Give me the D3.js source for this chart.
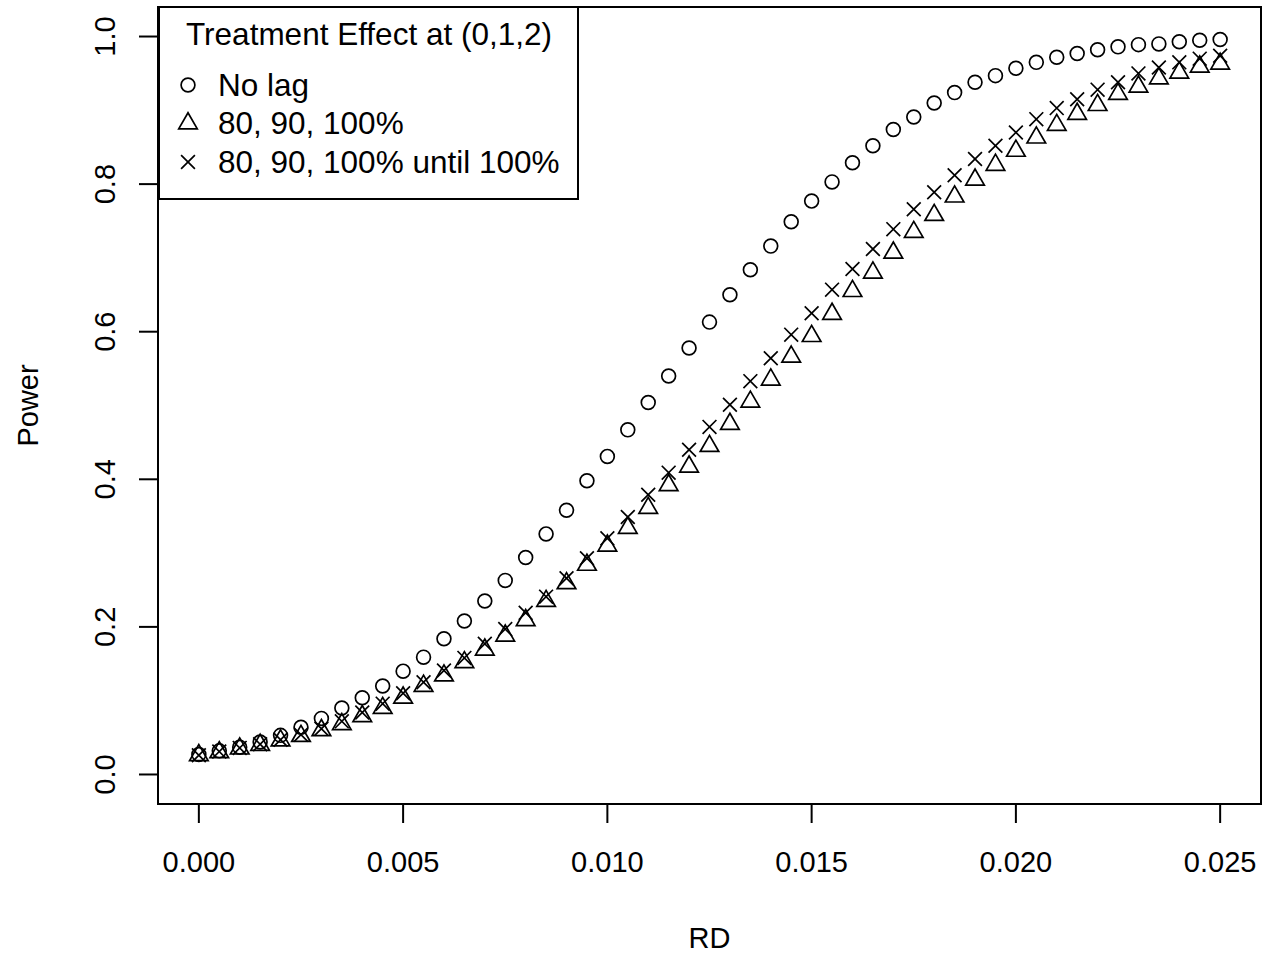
<!DOCTYPE html>
<html>
<head>
<meta charset="utf-8">
<script src="https://cdn.jsdelivr.net/npm/d3@7"></script>
<style>
  html, body { margin: 0; padding: 0; background: #ffffff; }
  svg { display: block; }
  text { font-family: Arial, "Liberation Sans", sans-serif; fill: #000; }
</style>
</head>
<body>
<svg id="chart" width="1264" height="953"></svg>
<script>
// RD values on the x axis (0 to 0.025 by 0.0005)
var rd = d3.range(0, 51).map(function(i) { return +(i * 0.0005).toFixed(4); });

var noLag = [
  0.027, 0.032, 0.037, 0.044, 0.053, 0.064, 0.076, 0.090, 0.104, 0.120,
  0.140, 0.159, 0.184, 0.208, 0.235, 0.263, 0.294, 0.326, 0.358, 0.398,
  0.431, 0.467, 0.504, 0.540, 0.578, 0.613, 0.650, 0.684, 0.716, 0.749,
  0.777, 0.803, 0.829, 0.852, 0.874, 0.891, 0.910, 0.924, 0.938, 0.947,
  0.957, 0.965, 0.972, 0.977, 0.982, 0.986, 0.989, 0.990, 0.993, 0.995,
  0.996
];

var lag = [
  0.026, 0.030, 0.035, 0.040, 0.046, 0.052, 0.060, 0.068, 0.079, 0.090,
  0.104, 0.120, 0.134, 0.152, 0.169, 0.188, 0.209, 0.235, 0.259, 0.284,
  0.310, 0.334, 0.361, 0.392, 0.417, 0.445, 0.475, 0.505, 0.535, 0.566,
  0.594, 0.624, 0.655, 0.680, 0.707, 0.735, 0.758, 0.783, 0.806, 0.826,
  0.845, 0.863, 0.880, 0.895, 0.907, 0.922, 0.932, 0.943, 0.951, 0.959,
  0.963
];

var lagUntil = [
  0.026, 0.031, 0.036, 0.041, 0.047, 0.054, 0.062, 0.072, 0.084, 0.096,
  0.110, 0.125, 0.141, 0.158, 0.177, 0.197, 0.219, 0.241, 0.266, 0.293,
  0.320, 0.349, 0.379, 0.409, 0.440, 0.471, 0.501, 0.533, 0.564, 0.596,
  0.625, 0.657, 0.685, 0.712, 0.739, 0.766, 0.789, 0.812, 0.834, 0.852,
  0.870, 0.888, 0.903, 0.915, 0.928, 0.938, 0.950, 0.958, 0.965, 0.970,
  0.974
];

var xTicks = [0, 0.005, 0.010, 0.015, 0.020, 0.025];
var yTicks = [0, 0.2, 0.4, 0.6, 0.8, 1.0];

var legendTitle = 'Treatment Effect at (0,1,2)';
var legendLabels = ['No lag', '80, 90, 100%', '80, 90, 100% until 100%'];
var legendShapes = ['circle', 'triangle', 'cross'];

var plot = { left: 158, right: 1261, top: 7, bottom: 804 };
var fontSize = 29;
var legendFont = 31.5;
var symR = 6.9;
var lw = 2;

var svg = d3.select('#chart');

// R style limits: xlim / ylim padded by 4%
var x = d3.scaleLinear().domain([-0.001, 0.026]).range([plot.left, plot.right]);
var y = d3.scaleLinear().domain([-0.04, 1.04]).range([plot.bottom, plot.top]);

function drawSymbol(g, shape, cx, cy) {
  if (shape == 'circle') {
    g.append('circle')
      .attr('cx', cx).attr('cy', cy).attr('r', symR)
      .attr('fill', 'none').attr('stroke', '#000').attr('stroke-width', 1.7);
  } else if (shape == 'triangle') {
    // same geometry as R pch = 2
    var r = 1.5551 * symR, xc = 1.3468 * symR, yc = 0.7776 * symR;
    var pts = [[cx, cy - r], [cx + xc, cy + yc], [cx - xc, cy + yc]];
    g.append('polygon')
      .attr('points', pts.map(function(p) { return p.join(','); }).join(' '))
      .attr('fill', 'none').attr('stroke', '#000').attr('stroke-width', 1.7);
  } else {
    g.append('path')
      .attr('d', 'M' + (cx - symR) + ',' + (cy - symR) + 'L' + (cx + symR) + ',' + (cy + symR) +
                 'M' + (cx - symR) + ',' + (cy + symR) + 'L' + (cx + symR) + ',' + (cy - symR))
      .attr('fill', 'none').attr('stroke', '#000').attr('stroke-width', 1.7);
  }
}

// points
var series = [noLag, lag, lagUntil];
var pointsG = svg.append('g').attr('class', 'points');
series.forEach(function(vals, k) {
  var g = pointsG.append('g').attr('class', 'series-' + k);
  vals.forEach(function(v, i) {
    drawSymbol(g, legendShapes[k], x(rd[i]), y(v));
  });
});

// frame
svg.append('rect')
  .attr('x', plot.left).attr('y', plot.top)
  .attr('width', plot.right - plot.left).attr('height', plot.bottom - plot.top)
  .attr('fill', 'none').attr('stroke', '#000').attr('stroke-width', lw);

// x axis
var xAxis = svg.append('g').attr('class', 'x-axis');
xAxis.selectAll('line')
  .data(xTicks)
  .enter().append('line')
  .attr('x1', function(d) { return x(d); })
  .attr('x2', function(d) { return x(d); })
  .attr('y1', plot.bottom)
  .attr('y2', plot.bottom + 19)
  .attr('stroke', '#000').attr('stroke-width', lw);
xAxis.selectAll('text')
  .data(xTicks)
  .enter().append('text')
  .attr('x', function(d) { return x(d); })
  .attr('y', 872)
  .attr('text-anchor', 'middle')
  .style('font-size', fontSize + 'px')
  .text(function(d) { return d3.format('.3f')(d); });

// y axis
var yAxis = svg.append('g').attr('class', 'y-axis');
yAxis.selectAll('line')
  .data(yTicks)
  .enter().append('line')
  .attr('x1', plot.left - 19)
  .attr('x2', plot.left)
  .attr('y1', function(d) { return y(d); })
  .attr('y2', function(d) { return y(d); })
  .attr('stroke', '#000').attr('stroke-width', lw);
yAxis.selectAll('text')
  .data(yTicks)
  .enter().append('text')
  .attr('transform', function(d) { return 'translate(115,' + y(d) + ') rotate(-90)'; })
  .attr('text-anchor', 'middle')
  .style('font-size', fontSize + 'px')
  .text(function(d) { return d3.format('.1f')(d); });

// axis titles
svg.append('text')
  .attr('x', (plot.left + plot.right) / 2)
  .attr('y', 948)
  .attr('text-anchor', 'middle')
  .style('font-size', fontSize + 'px')
  .text('RD');
svg.append('text')
  .attr('transform', 'translate(38,' + ((plot.top + plot.bottom) / 2) + ') rotate(-90)')
  .attr('text-anchor', 'middle')
  .style('font-size', fontSize + 'px')
  .text('Power');

// legend
var legend = svg.append('g').attr('class', 'legend');
legend.append('rect')
  .attr('x', 159).attr('y', 7)
  .attr('width', 578 - 159).attr('height', 199 - 7)
  .attr('fill', '#fff').attr('stroke', '#000').attr('stroke-width', lw);
legend.append('text')
  .attr('x', 369).attr('y', 45)
  .attr('text-anchor', 'middle')
  .style('font-size', legendFont + 'px')
  .text(legendTitle);
legendLabels.forEach(function(lab, k) {
  var cy = 85 + k * 38.5;
  drawSymbol(legend, legendShapes[k], 188, cy);
  legend.append('text')
    .attr('x', 218).attr('y', cy + 10.5)
    .style('font-size', legendFont + 'px')
    .text(lab);
});
</script>
</body>
</html>
